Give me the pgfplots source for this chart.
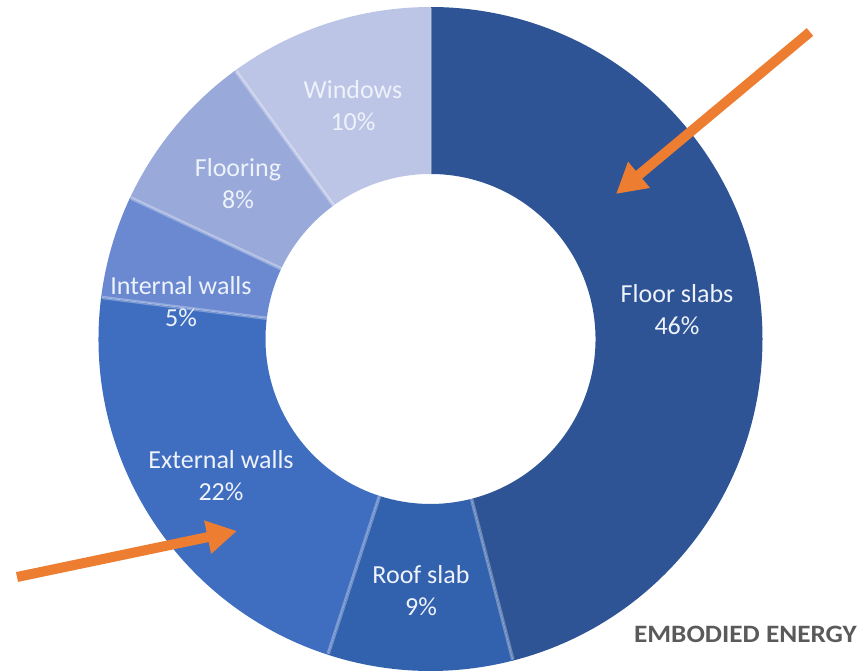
\documentclass[border=0pt]{standalone}
\usepackage{pgfplots}
\pgfplotsset{compat=1.18}
\usepackage{fontspec}
\setmainfont{Carlito}
\usetikzlibrary{arrows.meta}
\definecolor{cFloor}{HTML}{2E5496}
\definecolor{cRoof}{HTML}{3261AE}
\definecolor{cExt}{HTML}{3F6DC0}
\definecolor{cInt}{HTML}{6A89D1}
\definecolor{cFlr}{HTML}{98A9DA}
\definecolor{cWin}{HTML}{BCC5E6}
\definecolor{cLab}{HTML}{EEF2FA}
\definecolor{cArrow}{HTML}{ED7D31}
\definecolor{cTitle}{HTML}{5A5A5A}
\begin{document}
\begin{tikzpicture}
\begin{axis}[x=1bp,y=1bp,xmin=0,xmax=861,ymin=0,ymax=672,hide axis,clip=false]
\def\ang{90}
\pgfplotsforeachungrouped \v/\col in {46/cFloor,9/cRoof,22/cExt,5/cInt,8/cFlr,10/cWin}{%
  \pgfmathsetmacro\angb{\ang-3.6*\v}%
  \edef\temp{\noexpand\fill[\col]
    (axis cs:{430.5+332*cos(\ang)},{333+332*sin(\ang)})
    arc[start angle=\ang, end angle=\angb, radius=332bp]
    -- (axis cs:{430.5+165*cos(\angb)},{333+165*sin(\angb)})
    arc[start angle=\angb, end angle=\ang, radius=165bp] -- cycle;
    \noexpand\draw[white, opacity=0.3, line width=3.5bp]
    (axis cs:{430.5+165*cos(\ang)},{333+165*sin(\ang)}) -- (axis cs:{430.5+331*cos(\ang)},{333+331*sin(\ang)});}%
  \temp
  \global\let\ang\angb
}
\begin{scope}[every node/.style={text=cLab, align=center, font=\fontsize{26bp}{32bp}\selectfont}]
\node at (axis cs:677,362) {Floor slabs\\46\%};
\node at (axis cs:421,81) {Roof slab\\9\%};
\node at (axis cs:221,196) {External walls\\22\%};
\node at (axis cs:181,370) {Internal walls\\5\%};
\node at (axis cs:238,488) {Flooring\\8\%};
\node at (axis cs:353,566) {Windows\\10\%};
\end{scope}
\node[anchor=east, text=cTitle, font=\fontsize{25bp}{30bp}\selectfont\bfseries, inner sep=0pt] at (axis cs:857,38) {\scalebox{1.09}[1]{EMBODIED ENERGY}};
\draw[cArrow, line width=10bp, -{Triangle[length=30bp,width=32bp]}] (axis cs:810,640) -- (axis cs:616,478);
\draw[cArrow, line width=10bp, -{Triangle[length=30bp,width=32bp]}] (axis cs:17,95) -- (axis cs:237,141);
\end{axis}
\pgfresetboundingbox
\path[use as bounding box] (0,0) rectangle (861bp,672bp);
\end{tikzpicture}
\end{document}
